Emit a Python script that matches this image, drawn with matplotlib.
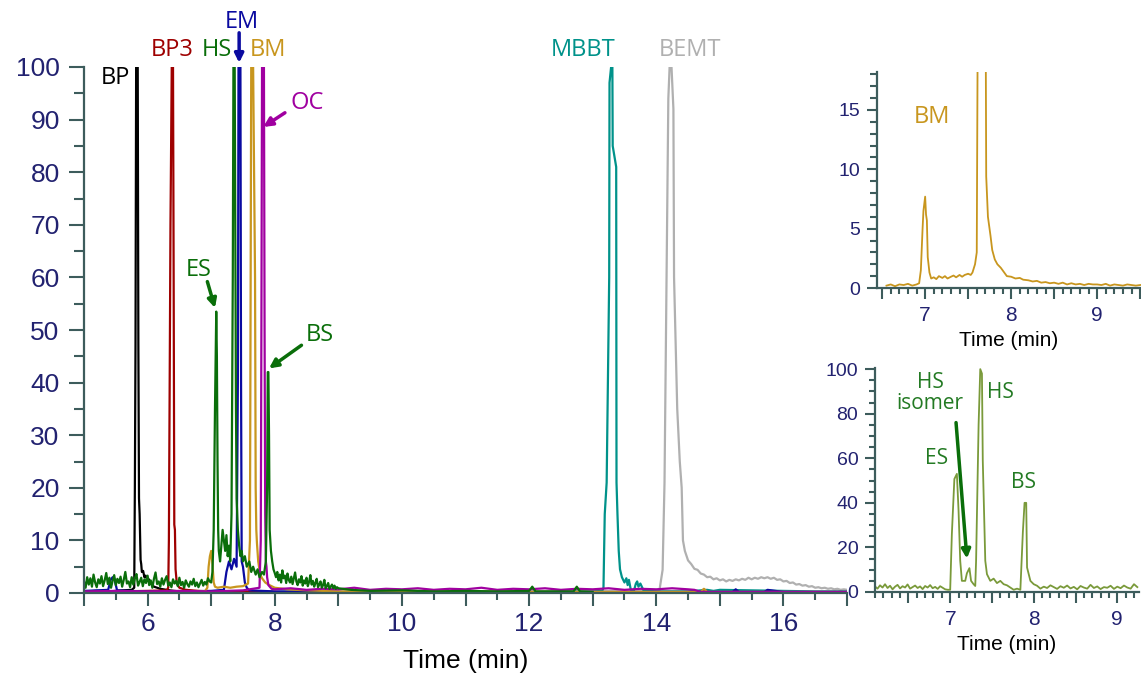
import numpy as np
import matplotlib
matplotlib.use('Agg')
import matplotlib.pyplot as plt
from matplotlib.ticker import MultipleLocator, FuncFormatter

######################## data ####################
# main panel, relative abundance (%) vs time (min)
bp_t = [5.0, 5.2, 5.4, 5.6, 5.75, 5.79, 5.80, 5.81, 5.82, 5.845, 5.855, 5.865, 5.875, 5.89,
        5.90, 5.91, 5.93, 5.95, 5.97, 6.00, 6.02, 6.05, 6.1, 6.2, 6.35, 6.5]
bp_y = [0.3, 0.4, 0.3, 0.5, 0.6, 1.0, 20, 47, 100, 100, 47, 18, 15, 6.3,
        5.5, 4.0, 4.2, 3.0, 3.3, 2.3, 2.6, 1.8, 1.2, 0.8, 0.5, 0.3]

bp3_t = [5.0, 5.5, 6.0, 6.3, 6.325, 6.335, 6.36, 6.38, 6.40, 6.41, 6.42, 6.43, 6.44, 6.46,
         6.5, 6.6, 6.8, 7.0, 7.5, 8.0]
bp3_y = [0.2, 0.3, 0.4, 0.5, 1.0, 10, 70, 100, 100, 60, 13, 12, 4.5, 1.8,
         1.0, 0.6, 0.4, 0.3, 0.3, 0.2]

# green trace (ES, HS, BS)
green_noise1_y = [2.2, 1.0, 3.0, 1.6, 2.8, 1.2, 3.5, 2.0, 1.1, 2.6, 1.8, 3.2, 1.3, 2.4, 3.8,
                  1.7, 2.9, 1.0, 2.3, 3.4, 1.5, 2.7, 1.9, 3.1, 1.2, 2.5, 4.0, 1.8, 2.2, 1.1,
                  3.0, 1.6, 2.8, 3.6, 1.4, 2.1, 2.9, 1.3, 2.6, 1.9, 3.3, 1.5, 2.4, 1.0, 2.7,
                  3.9, 1.7, 2.2, 1.2, 2.8, 1.6, 2.5, 3.2, 1.4, 2.0, 1.1, 2.6, 1.8, 2.3, 1.3,
                  2.9, 1.5, 2.1, 1.0, 2.4, 1.7, 1.2, 2.2, 1.6, 2.7, 1.3, 2.0, 1.1, 1.8, 2.5,
                  1.4, 2.1, 1.6, 2.8, 2.2]
green_peak_t = [7.00, 7.02, 7.04, 7.06, 7.08, 7.09, 7.10, 7.11, 7.12, 7.14, 7.16, 7.18, 7.20,
                7.22, 7.24, 7.26, 7.28, 7.30, 7.32, 7.34, 7.35, 7.37, 7.38, 7.39, 7.40, 7.42,
                7.44, 7.46, 7.48, 7.50, 7.53, 7.56, 7.60, 7.63, 7.66, 7.70, 7.73, 7.76, 7.80,
                7.83, 7.86, 7.88, 7.89, 7.90, 7.91, 7.92, 7.94, 7.96, 7.98, 8.00]
green_peak_y = [2.0, 4.0, 12, 35, 53.5, 45, 25, 12, 8, 6, 9, 12, 10,
                8, 11, 7, 9, 6, 15, 60, 100, 100, 70, 35, 18, 12,
                9, 7, 8, 6, 7, 5, 6, 4, 5, 3.5, 4.5, 3, 4,
                3.5, 6, 20, 42, 42, 30, 12, 8, 6, 4.5, 3.8]
green_noise2_y = [3.0, 4.0, 2.4, 3.5, 2.0, 4.3, 2.8, 3.3, 1.9, 3.7, 2.5, 2.0, 3.1, 1.7, 2.8,
                  3.9, 2.2, 1.5, 2.6, 2.0, 3.2, 1.4, 2.4, 1.8, 2.9, 1.3, 2.1, 3.4, 1.6, 2.3,
                  1.2, 1.9, 2.7, 1.1, 1.6, 2.2, 1.0, 1.5, 2.5, 0.9, 1.3, 1.9, 0.8, 1.2, 1.6,
                  0.9, 1.4, 0.8, 1.1, 0.9]
green_tail_t = [9.2, 9.5, 10.0, 10.5, 11.0, 11.5, 12.0, 12.05, 12.1, 12.7, 12.75, 12.8, 13.0]
green_tail_y = [0.6, 0.4, 0.5, 0.3, 0.4, 0.3, 0.4, 1.2, 0.3, 0.3, 1.2, 0.3, 0.2]

em_t = [5.0, 5.2, 5.38, 5.42, 5.45, 5.48, 5.52, 5.7, 6.0, 6.5, 7.0, 7.2, 7.24, 7.28, 7.32,
        7.36, 7.40, 7.42, 7.43, 7.46, 7.47, 7.48, 7.50, 7.53, 7.56, 7.6, 7.8, 8.0, 8.5, 9.0,
        12.0, 14.7, 14.75, 14.8, 15.2, 15.25, 15.3, 15.7, 15.75, 16.0, 17.0]
em_y = [0.4, 0.5, 0.6, 2.5, 3.0, 2.6, 0.5, 0.4, 0.3, 0.3, 0.4, 0.6, 4.0, 6.0, 4.5,
        6.5, 5.0, 40, 100, 100, 40, 6.0, 5.0, 2.0, 1.0, 0.5, 0.4, 0.3, 0.3, 0.2,
        0.2, 0.2, 0.7, 0.2, 0.2, 0.7, 0.2, 0.2, 0.6, 0.2, 0.2]

bm_t = [5.0, 6.0, 6.9, 6.94, 6.96, 6.98, 7.00, 7.02, 7.04, 7.06, 7.1, 7.2, 7.3, 7.4, 7.5,
        7.58, 7.61, 7.63, 7.66, 7.69, 7.70, 7.71, 7.72, 7.74, 7.77, 7.80, 7.85, 7.9, 8.0,
        8.2, 8.5, 9.0, 14.7, 14.75, 14.8, 17.0]
bm_y = [0.2, 0.2, 0.3, 1.0, 5.0, 7.0, 8.0, 5.5, 2.0, 1.2, 1.0, 1.2, 1.0, 1.2, 1.3,
        1.8, 10, 100, 100, 60, 20, 12, 9.5, 6.0, 3.6, 2.8, 2.0, 1.6, 1.0,
        0.7, 0.5, 0.3, 0.2, 0.8, 0.2, 0.2]

oc_t = [5.0, 5.5, 6.0, 6.5, 7.0, 7.5, 7.76, 7.78, 7.79, 7.80, 7.83, 7.84, 7.85, 7.86,
        7.87, 7.88, 7.90, 7.95, 8.0, 8.25, 8.5, 8.75, 9.0, 9.25, 9.5, 9.75, 10.0, 10.25,
        10.5, 10.75, 11.0, 11.25, 11.5, 11.75, 12.0, 12.25, 12.5, 12.75, 13.0, 13.25,
        13.5, 13.75, 14.0, 14.25, 14.5, 14.6, 14.7, 17.0]
oc_y = [0.3, 0.4, 0.3, 0.4, 0.3, 0.5, 1.0, 10, 50, 100, 100, 50, 15, 6,
        5, 3, 1.5, 0.8, 0.7, 0.9, 0.6, 0.8, 0.7, 1.0, 0.6, 0.8, 0.7, 0.9,
        0.6, 0.8, 0.7, 1.0, 0.6, 0.8, 0.7, 0.9, 0.6, 0.8, 0.7, 0.9,
        0.6, 0.8, 0.7, 0.9, 0.7, 0.6, 0.2, 0.2]

mbbt_t = [5.0, 8.0, 12.0, 13.0, 13.15, 13.17, 13.19, 13.22, 13.26, 13.265, 13.29, 13.31,
          13.315, 13.37, 13.375, 13.39, 13.41, 13.43, 13.46, 13.50, 13.53, 13.55, 13.57,
          13.6, 13.65, 13.68, 13.70, 13.72, 13.75, 13.8, 14.0, 14.5, 14.8, 14.9, 15.0,
          15.5, 16.0, 16.5, 17.0]
mbbt_y = [0.2, 0.2, 0.2, 0.3, 0.4, 1.0, 15, 21, 60, 97, 100, 100,
          85, 81, 21, 15, 8, 4.5, 3.0, 2.0, 2.8, 1.5, 2.5,
          0.6, 0.5, 1.8, 2.2, 1.2, 1.8, 0.5, 0.3, 0.3, 0.6, 0.4, 0.6,
          0.5, 0.4, 0.3, 0.3]

bemt_t = [5.0, 8.0, 12.0, 13.5, 13.8, 14.05, 14.10, 14.13, 14.19, 14.21, 14.24, 14.27,
          14.28, 14.33, 14.37, 14.40, 14.42,
          14.45, 14.50, 14.55, 14.60, 14.65, 14.70, 14.75, 14.80, 14.85, 14.90, 14.95,
          15.00, 15.05, 15.10, 15.15, 15.20, 15.25, 15.30, 15.35, 15.40, 15.45, 15.50,
          15.55, 15.60, 15.65, 15.70, 15.75, 15.80, 15.85, 15.90, 15.95, 16.00, 16.05,
          16.10, 16.15, 16.20, 16.25, 16.30, 16.35, 16.40, 16.45, 16.50, 16.55, 16.60,
          16.65, 16.70, 16.75, 16.80, 16.85, 16.90, 16.95, 17.00]
bemt_y = [0.2, 0.2, 0.2, 0.3, 0.3, 0.5, 4.4, 21, 94, 100, 100, 92,
          60, 35, 25, 20, 10,
          8.0, 6.2, 5.5, 4.6, 4.4, 3.7, 3.5, 3.0, 3.1, 2.6, 2.8,
          2.4, 2.6, 2.2, 2.5, 2.3, 2.6, 2.4, 2.7, 2.5, 2.9, 2.6,
          2.9, 2.7, 3.0, 2.8, 3.0, 2.7, 2.9, 2.5, 2.6, 2.2, 2.3,
          1.9, 2.0, 1.6, 1.7, 1.4, 1.5, 1.2, 1.3, 1.0, 1.1, 0.9,
          1.0, 0.8, 0.9, 0.7, 0.8, 0.6, 0.7, 0.6]

# inset 1: BM trace, zoomed
ins1_t = [6.55, 6.60, 6.65, 6.70, 6.75, 6.80, 6.85, 6.90, 6.93, 6.95, 6.97, 6.98, 7.00, 7.01,
          7.02, 7.03, 7.05, 7.07, 7.10, 7.13, 7.16, 7.20, 7.23, 7.26, 7.30, 7.33, 7.36,
          7.40, 7.43, 7.46, 7.50, 7.53, 7.55, 7.58, 7.60, 7.61, 7.63, 7.69, 7.70, 7.71,
          7.73, 7.76, 7.78, 7.81, 7.84, 7.88, 7.91, 7.95, 8.00, 8.05, 8.10, 8.14, 8.20,
          8.25, 8.30, 8.35, 8.40, 8.45, 8.50, 8.55, 8.60, 8.65, 8.70, 8.75, 8.80, 8.85,
          8.90, 8.95, 9.00, 9.05, 9.10, 9.15, 9.20, 9.25, 9.30, 9.35, 9.40, 9.45, 9.50]
ins1_y = [0.2, 0.3, 0.15, 0.3, 0.25, 0.35, 0.2, 0.3, 0.4, 1.5, 5.0, 6.5, 7.7, 6.2,
          5.7, 2.6, 1.3, 0.8, 0.9, 0.75, 1.0, 0.85, 1.0, 0.8, 0.95, 1.05, 0.9,
          1.1, 0.95, 1.1, 1.2, 1.1, 1.3, 2.0, 3.0, 20, 100, 100, 30, 9.4,
          6.0, 4.4, 3.2, 2.4, 2.0, 1.7, 1.4, 1.0, 0.95, 0.8, 0.85, 0.7, 0.65,
          0.55, 0.6, 0.45, 0.5, 0.4, 0.45, 0.35, 0.45, 0.3, 0.4, 0.3, 0.35, 0.25,
          0.35, 0.3, 0.3, 0.25, 0.35, 0.2, 0.3, 0.25, 0.2, 0.3, 0.25, 0.2, 0.25]

# inset 2: ES / HS / BS trace, zoomed
ins2_pre_y = [2.5, 1.5, 3.0, 2.0, 3.5, 1.8, 2.8, 1.2, 2.4, 3.2, 1.6, 2.6, 2.0, 3.4, 1.5,
              2.2, 2.9, 1.8, 2.5, 1.3, 2.7, 2.0, 3.1, 1.7, 2.3, 1.4, 2.6, 1.9, 1.2, 1.0]
ins2_peak_t = [7.00, 7.02, 7.05, 7.08, 7.10, 7.12, 7.14, 7.18, 7.20, 7.23, 7.25, 7.28, 7.30,
               7.31, 7.34, 7.36, 7.38, 7.39, 7.42, 7.44, 7.48, 7.52, 7.56, 7.60, 7.64,
               7.68, 7.72, 7.76, 7.80, 7.84, 7.87, 7.89, 7.91, 7.92, 7.96, 8.00]
ins2_peak_y = [1.0, 26, 50.7, 53, 36.6, 14, 5, 5, 8.4, 10.7, 5, 3.5, 2.7,
               14, 75, 100, 98, 59, 14, 8, 5, 6, 4, 5, 3.5,
               3.0, 2.0, 1.0, 1.5, 1.0, 27, 40, 40, 11, 5, 3.5]
ins2_post_y = [2.8, 1.5, 2.4, 1.8, 3.0, 2.2, 1.4, 2.6, 1.9, 2.9, 1.6, 2.3, 1.2, 2.7, 2.0,
               1.5, 3.2, 1.8, 2.5, 1.3, 2.2, 1.9, 2.8, 1.4, 2.4, 1.7, 2.9, 2.0, 1.5, 3.5, 2.2]

# sampling grids for the noisy stretches
green_t = np.concatenate([np.round(5.0 + 0.025 * np.arange(len(green_noise1_y)), 3),
                          green_peak_t,
                          np.round(8.02 + 0.02 * np.arange(len(green_noise2_y)), 2),
                          green_tail_t])
green_y = np.concatenate([green_noise1_y, green_peak_y, green_noise2_y, green_tail_y])
ins2_t = np.concatenate([np.round(6.10 + 0.03 * np.arange(len(ins2_pre_y)), 2),
                         ins2_peak_t,
                         np.round(8.04 + 0.04 * np.arange(len(ins2_post_y)), 2)])
ins2_y = np.concatenate([ins2_pre_y, ins2_peak_y, ins2_post_y])

###### colours
c_bp = 'black'
c_bp3 = '#9e0000'
c_green = '#0a6e0a'
c_green_txt = '#237a23'
c_em = '#0a0aa0'
c_bm = '#c8961e'
c_oc = '#a000a0'
c_mbbt = '#00928a'
c_bemt = '#b0b0b0'
c_olive = '#7a9a3a'
c_tick = '#222270'
c_spine = '#3d5c5c'

label_font = ['Open Sans', 'DejaVu Sans']
tick_font = ['Liberation Sans', 'DejaVu Sans']
plt.rcParams['font.family'] = tick_font


def style_axes(ax, xsize, ysize, xmaj, xmin, ymaj, ymin):
    for s in ['top', 'right']:
        ax.spines[s].set_visible(False)
    for s in ['left', 'bottom']:
        ax.spines[s].set_color(c_spine)
        ax.spines[s].set_linewidth(1.6)
    ax.tick_params(axis='x', which='major', length=xmaj, width=1.5, color=c_spine,
                   labelsize=xsize, labelcolor=c_tick, pad=5)
    ax.tick_params(axis='x', which='minor', length=xmin, width=1.5, color=c_spine)
    ax.tick_params(axis='y', which='major', length=ymaj, width=1.5, color=c_spine,
                   labelsize=ysize, labelcolor=c_tick, pad=5)
    ax.tick_params(axis='y', which='minor', length=ymin, width=1.5, color=c_spine)


fig = plt.figure(figsize=(11.41, 6.8), dpi=100)

###### main chromatogram
ax = fig.add_axes([84 / 1141, 87 / 680, 763 / 1141, 526 / 680])
lw = 1.6
ax.plot(bemt_t, bemt_y, color=c_bemt, lw=lw)
ax.plot(mbbt_t, mbbt_y, color=c_mbbt, lw=lw)
ax.plot(bp_t, bp_y, color=c_bp, lw=lw)
ax.plot(bp3_t, bp3_y, color=c_bp3, lw=lw)
ax.plot(em_t, em_y, color=c_em, lw=lw)
ax.plot(bm_t, bm_y, color=c_bm, lw=lw)
ax.plot(oc_t, oc_y, color=c_oc, lw=lw)
ax.plot(green_t, green_y, color=c_green, lw=lw)
ax.set_xlim(5, 17)
ax.set_ylim(0, 100)
ax.xaxis.set_major_locator(MultipleLocator(1))
ax.xaxis.set_minor_locator(MultipleLocator(0.5))
ax.xaxis.set_major_formatter(FuncFormatter(lambda v, p: '%d' % v if int(round(v)) % 2 == 0 else ''))
ax.yaxis.set_major_locator(MultipleLocator(10))
ax.yaxis.set_minor_locator(MultipleLocator(5))
style_axes(ax, 19, 19, 9, 5, 10.5, 7)
ax.tick_params(axis='y', which='major', pad=7)
ax.set_xlabel('Time (min)', fontsize=19, labelpad=9)

fs = 17
ax.text(5.49, 97.9, 'BP', color=c_bp, fontsize=fs, family=label_font, ha='center', va='center', clip_on=False)
ax.text(6.39, 103.2, 'BP3', color=c_bp3, fontsize=fs, family=label_font, ha='center', va='center', clip_on=False)
ax.text(7.09, 103.2, 'HS', color=c_green, fontsize=fs, family=label_font, ha='center', va='center', clip_on=False)
ax.text(7.48, 108.6, 'EM', color=c_em, fontsize=fs, family=label_font, ha='center', va='center', clip_on=False)
ax.text(7.90, 103.2, 'BM', color=c_bm, fontsize=fs, family=label_font, ha='center', va='center', clip_on=False)
ax.text(8.24, 93.2, 'OC', color=c_oc, fontsize=fs, family=label_font, ha='left', va='center', clip_on=False)
ax.text(6.80, 61.4, 'ES', color=c_green, fontsize=fs, family=label_font, ha='center', va='center')
ax.text(8.71, 49.0, 'BS', color=c_green, fontsize=fs, family=label_font, ha='center', va='center')
ax.text(12.85, 103.2, 'MBBT', color=c_mbbt, fontsize=fs, family=label_font, ha='center', va='center', clip_on=False)
ax.text(14.53, 103.2, 'BEMT', color=c_bemt, fontsize=fs, family=label_font, ha='center', va='center', clip_on=False)

arrows = [((7.44, 106.5), (7.44, 100.8), c_em),
          ((8.16, 91.3), (7.82, 88.6), c_oc),
          ((6.94, 59.2), (7.06, 54.2), c_green),
          ((8.42, 47.1), (7.91, 42.7), c_green)]
for tail, head, col in arrows:
    ax.annotate('', xy=head, xytext=tail, annotation_clip=False,
                arrowprops=dict(arrowstyle='-|>', color=col, lw=2.5, mutation_scale=13,
                                shrinkA=0, shrinkB=0))

###### inset 1: BM
ax1 = fig.add_axes([877 / 1141, 392 / 680, 264 / 1141, 216 / 680])
ax1.plot(ins1_t, ins1_y, color=c_bm, lw=1.3)
ax1.set_xlim(6.44, 9.51)
ax1.set_ylim(0, 18.2)
ax1.xaxis.set_major_locator(MultipleLocator(0.5))
ax1.xaxis.set_minor_locator(MultipleLocator(0.1))
ax1.xaxis.set_major_formatter(FuncFormatter(lambda v, p: '%d' % round(v) if abs(v - round(v)) < 1e-6 else ''))
ax1.yaxis.set_major_locator(MultipleLocator(5))
ax1.yaxis.set_minor_locator(MultipleLocator(1))
style_axes(ax1, 15, 14, 8, 4, 7, 5)
ax1.set_xlabel('Time (min)', fontsize=15, labelpad=4)
ax1.text(7.08, 14.4, 'BM', color=c_bm, fontsize=17, family=label_font, ha='center', va='center')

###### inset 2: ES / HS / BS
ax2 = fig.add_axes([875 / 1141, 88 / 680, 264 / 1141, 224 / 680])
ax2.plot(ins2_t, ins2_y, color=c_olive, lw=1.3)
ax2.set_xlim(6.10, 9.26)
ax2.set_ylim(0, 100.5)
ax2.xaxis.set_major_locator(MultipleLocator(0.5))
ax2.xaxis.set_minor_locator(MultipleLocator(0.1))
ax2.xaxis.set_major_formatter(FuncFormatter(lambda v, p: '%d' % round(v) if abs(v - round(v)) < 1e-6 else ''))
ax2.yaxis.set_major_locator(MultipleLocator(20))
ax2.yaxis.set_minor_locator(MultipleLocator(5))
style_axes(ax2, 15, 14, 8, 4, 7, 4)
ax2.set_xlabel('Time (min)', fontsize=15, labelpad=4)
fs2 = 15
ax2.text(6.76, 89.3, 'HS\nisomer', color=c_green_txt, fontsize=fs2, family=label_font,
         ha='center', va='center', linespacing=1.0)
ax2.text(6.84, 59.8, 'ES', color=c_green_txt, fontsize=fs2, family=label_font, ha='center', va='center')
ax2.text(7.60, 89.4, 'HS', color=c_green_txt, fontsize=fs2, family=label_font, ha='center', va='center')
ax2.text(7.88, 49.2, 'BS', color=c_green_txt, fontsize=fs2, family=label_font, ha='center', va='center')
ax2.annotate('', xy=(7.20, 15.0), xytext=(7.07, 76),
             arrowprops=dict(arrowstyle='-|>', color=c_green, lw=2.5, mutation_scale=13,
                             shrinkA=0, shrinkB=0))

plt.savefig('out.png', dpi=100)
plt.close(fig)
